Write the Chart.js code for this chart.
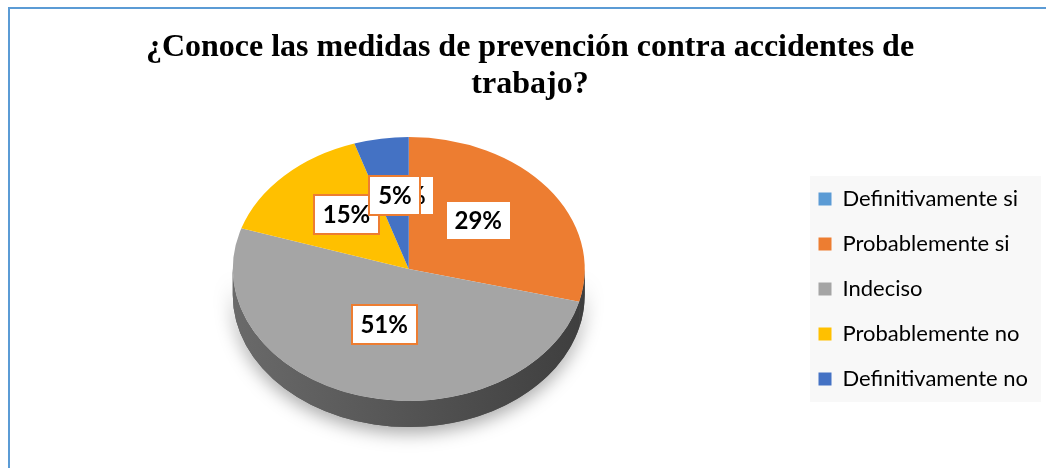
<!DOCTYPE html>
<html>
<head>
<meta charset="utf-8">
<script src="https://cdn.jsdelivr.net/npm/chart.js@4.4.1/dist/chart.umd.min.js"></script>
<style>
  html, body { margin: 0; padding: 0; background: #ffffff; }
  #wrap { position: relative; width: 1046px; height: 468px; overflow: hidden; background: #fff; }
  #frame { position: absolute; left: 8px; top: 7px; width: 1100px; height: 500px;
           border-left: 2px solid #5B9BD5; border-top: 2px solid #5B9BD5; box-sizing: border-box; }
  canvas { position: absolute; left: 0; top: 0; }
</style>
</head>
<body>
<div id="wrap">
  <div id="frame"></div>
  <canvas id="c" width="1046" height="468"></canvas>
</div>
<script>
const titleLines = ["¿Conoce las medidas de prevención contra accidentes de", "trabajo?"];
const categories = ["Definitivamente si", "Probablemente si", "Indeciso", "Probablemente no", "Definitivamente no"];
const percentValues = [0, 29, 51, 15, 5];
const sliceColors = ["#5B9BD5", "#ED7D31", "#A5A5A5", "#FFC000", "#4472C4"];
const wallColors = [["#3f74a6", "#2d5a85"], ["#6a6a6a", "#3e3e3e"], ["#6a6a6a", "#3e3e3e"], ["#c79500", "#9a7300"], ["#2f5597", "#203f73"]];

const CENTER_Y = 269;   // visual centre of the tilted pie
const SQUASH = 0.75;    // vertical tilt factor
const DEPTH = 26;       // thickness of the pie wall in px

function ellipseMap(cx, cy, x, y) {
  return { x: x, y: CENTER_Y + (y - cy) * SQUASH };
}

const tiltPlugin = {
  id: 'tilt3d',
  beforeDatasetsDraw(chart) {
    const meta = chart.getDatasetMeta(0);
    const a0 = meta.data[0];
    const cx = a0.x, cy = a0.y, r = a0.outerRadius;
    const ctx = chart.ctx;
    ctx.save();
    ctx.translate(0, CENTER_Y);
    ctx.scale(1, SQUASH);
    ctx.translate(0, -cy);
    const d = DEPTH / SQUASH;
    ctx.save();
    ctx.shadowColor = 'rgba(0,0,0,0.35)';
    ctx.shadowBlur = 18;
    ctx.shadowOffsetY = 6;
    ctx.beginPath();
    ctx.arc(cx, cy, r, 0, Math.PI);
    ctx.arc(cx, cy + d, r, Math.PI, 0, true);
    ctx.closePath();
    ctx.fillStyle = '#555';
    ctx.fill();
    ctx.restore();
    meta.data.forEach((arc, i) => {
      const norm = a => { let v = a % (2 * Math.PI); if (v < 0) v += 2 * Math.PI; return v; };
      let s = arc.startAngle, e = arc.endAngle;
      if (e - s <= 0.0001) return;
      const ns = norm(s), ne = ns + (e - s);
      [[ns, ne], [ns - 2 * Math.PI, ne - 2 * Math.PI], [ns + 2 * Math.PI, ne + 2 * Math.PI]].forEach(([p, q]) => {
        const lo = Math.max(p, 0), hi = Math.min(q, Math.PI);
        if (hi <= lo) return;
        const g = ctx.createLinearGradient(cx - r, 0, cx + r, 0);
        g.addColorStop(0, wallColors[i][0]);
        g.addColorStop(1, wallColors[i][1]);
        ctx.beginPath();
        ctx.arc(cx, cy, r, lo, hi);
        ctx.arc(cx, cy + d, r, hi, lo, true);
        ctx.closePath();
        ctx.fillStyle = g;
        ctx.fill();
      });
    });
  },
  afterDatasetsDraw(chart) {
    const ctx = chart.ctx;
    ctx.restore();
    const meta = chart.getDatasetMeta(0);
    const data = chart.data.datasets[0].data;
    ctx.save();
    ctx.font = 'bold 24px Lato';
    ctx.textAlign = 'center';
    ctx.textBaseline = 'middle';
    meta.data.forEach((arc, i) => {
      const mid = (arc.startAngle + arc.endAngle) / 2;
      const rr = arc.outerRadius * 0.5;
      const p = ellipseMap(arc.x, arc.y, arc.x + Math.cos(mid) * rr, arc.y + Math.sin(mid) * rr);
      const txt = data[i] + '%';
      const tw = ctx.measureText(txt).width;
      const bw = Math.round(tw + 19), bh = 41;
      const bx = Math.round(p.x - bw / 2), by = Math.round(p.y - 8 - bh / 2);
      ctx.fillStyle = '#ffffff';
      ctx.fillRect(bx, by, bw, bh);
      ctx.strokeStyle = '#ED7D31';
      ctx.lineWidth = 2;
      ctx.strokeRect(bx + 1, by + 1, bw - 2, bh - 2);
      ctx.fillStyle = '#000000';
      ctx.fillText(txt, p.x, by + bh / 2 + 1);
    });
    ctx.restore();
  },
  beforeDraw(chart) {
    const lg = chart.legend;
    if (!lg) return;
    const ctx = chart.ctx;
    ctx.save();
    ctx.fillStyle = '#f8f8f8';
    const items = lg.legendHitBoxes;
    if (items && items.length) {
      const top = items[0].top - 12;
      const last = items[items.length - 1];
      const bottom = last.top + last.height + 12;
      ctx.fillRect(810, top, 231, bottom - top);
    }
    ctx.restore();
  }
};

new Chart(document.getElementById('c'), {
  type: 'pie',
  data: {
    labels: categories,
    datasets: [{
      data: percentValues,
      backgroundColor: sliceColors,
      borderWidth: 0,
      radius: 176
    }]
  },
  options: {
    responsive: false,
    animation: false,
    layout: { padding: { left: 22, right: 8, top: 0, bottom: 0 } },
    plugins: {
      title: {
        display: true,
        text: titleLines,
        color: '#000000',
        font: { family: 'Liberation Serif', size: 32, weight: 'bold', lineHeight: 1.17 },
        padding: { top: 29, bottom: 16 }
      },
      legend: {
        position: 'right',
        align: 'center',
        title: { display: true, text: '', padding: { top: 10, bottom: 0 }, font: { size: 100, lineHeight: 1 } },
        labels: {
          boxWidth: 13,
          boxHeight: 13,
          padding: 23,
          color: '#000000',
          font: { family: 'Lato', size: 22 }
        }
      },
      tooltip: { enabled: false }
    }
  },
  plugins: [tiltPlugin]
});
</script>
</body>
</html>
